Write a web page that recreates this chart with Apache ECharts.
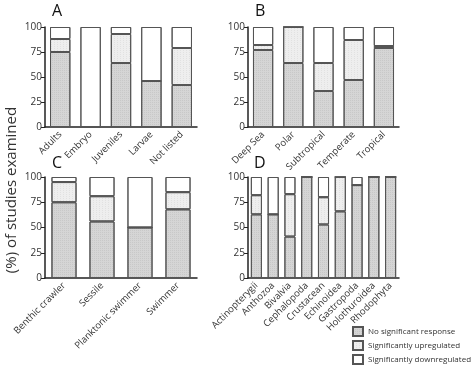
<!DOCTYPE html>
<html><head><meta charset="utf-8">
<script src="https://cdn.jsdelivr.net/npm/echarts@6/dist/echarts.min.js"></script>
<style>html,body{margin:0;padding:0;background:#fff}#c{width:472px;height:368px}</style>
</head><body><div id="c"></div>
<script>
const catsA = ['Adults','Embryo','Juveniles','Larvae','Not listed'];
const noSigA = [75, 0, 64, 46, 42];
const upA    = [13, 0, 29, 0, 37];
const downA  = [12, 100, 7, 54, 21];

const catsB = ['Deep Sea','Polar','Subtropical','Temperate','Tropical'];
const noSigB = [77, 64, 36, 47, 79];
const upB    = [5, 36, 28, 40, 2];
const downB  = [18, 0, 36, 13, 19];

const catsC = ['Benthic crawler','Sessile','Planktonic swimmer','Swimmer'];
const noSigC = [75, 56, 50, 68];
const upC    = [20, 25, 0, 17];
const downC  = [5, 19, 50, 15];

const catsD = ['Actinopterygii','Anthozoa','Bivalvia','Cephalopoda','Crustacean','Echinoidea','Gastropoda','Holothuroidea','Rhodophyta'];
const noSigD = [63, 63, 41, 100, 53, 66, 92, 100, 100];
const upD    = [19, 0, 42, 0, 27, 34, 0, 0, 0];
const downD  = [18, 37, 17, 0, 20, 0, 8, 0, 0];

const yTicks = [0, 25, 50, 75, 100];
const seriesNames = ['No significant response','Significantly upregulated','Significantly downregulated'];
const panelTitles = ['A','B','C','D'];
const yTitle = '(%) of studies examined';

const FONT = 'Open Sans';
const panels = [
  {cats: catsA, vals: [noSigA, upA, downA], grid: {left: 45, top: 27, width: 152, height: 100}, bw: '67%', t: [52, 3]},
  {cats: catsB, vals: [noSigB, upB, downB], grid: {left: 248, top: 27, width: 151, height: 100}, bw: '67%', t: [255, 3]},
  {cats: catsC, vals: [noSigC, upC, downC], grid: {left: 45, top: 177, width: 152, height: 101}, bw: '66%', t: [52, 155]},
  {cats: catsD, vals: [noSigD, upD, downD], grid: {left: 248, top: 177, width: 151, height: 101}, bw: '66%', t: [254, 155]}
];
const fills = ['#d5d5d5', '#eeeeee', '#ffffff'];
const decals = [
  {symbol: 'rect', symbolSize: 1, dashArrayX: [1, 1], dashArrayY: [1, 1], color: 'rgba(0,0,0,0.06)'},
  {symbol: 'rect', symbolSize: 1, dashArrayX: [1, 2], dashArrayY: [1, 1], color: 'rgba(0,0,0,0.05)'},
  {symbol: 'none'}
];

const chart = echarts.init(document.getElementById('c'));
const grids = [], xAxes = [], yAxes = [], series = [], titles = [];
panels.forEach((p, i) => {
  grids.push(Object.assign({}, p.grid));
  titles.push({text: panelTitles[i], left: p.t[0], top: p.t[1], padding: 0,
    textStyle: {fontSize: 16, fontWeight: 'normal', color: '#111', fontFamily: FONT}});
  xAxes.push({
    type: 'category', gridIndex: i, data: p.cats,
    axisLine: {lineStyle: {color: '#222', width: 1.5}},
    axisTick: {alignWithLabel: true, length: 4, lineStyle: {color: '#222'}},
    axisLabel: {rotate: 45, fontSize: 9.5, color: '#333', fontFamily: FONT, margin: 6, interval: 0}
  });
  yAxes.push({
    type: 'value', gridIndex: i, min: 0, max: 100, interval: 25,
    axisLine: {show: true, lineStyle: {color: '#222', width: 1.5}},
    axisTick: {show: true, length: 4, lineStyle: {color: '#222'}},
    splitLine: {show: false},
    axisLabel: {fontSize: 10, color: '#333', fontFamily: FONT, margin: 3,
      formatter: v => yTicks.includes(v) ? String(v) : ''}
  });
  p.vals.forEach((arr, k) => {
    series.push({
      type: 'bar', name: seriesNames[k], xAxisIndex: i, yAxisIndex: i,
      stack: 'p' + i, data: arr, barWidth: p.bw,
      itemStyle: {color: fills[k], borderColor: '#555', borderWidth: 1, decal: decals[k]},
      emphasis: {disabled: true}
    });
  });
});

chart.setOption({
  animation: false,
  backgroundColor: '#fff',
  title: titles,
  graphic: [{
    type: 'text', x: 12, y: 190, rotation: Math.PI / 2,
    style: {text: yTitle, font: '15px "Open Sans"', fill: '#333', textAlign: 'center', textVerticalAlign: 'middle'}
  }],
  legend: {
    data: seriesNames, orient: 'vertical', left: 352, top: 326, height: 42,
    icon: 'rect', itemWidth: 10, itemHeight: 9, itemGap: 3, padding: 0,
    textStyle: {fontSize: 8, color: '#333', fontFamily: FONT},
    selectedMode: false
  },
  grid: grids, xAxis: xAxes, yAxis: yAxes, series: series
});
</script></body></html>
